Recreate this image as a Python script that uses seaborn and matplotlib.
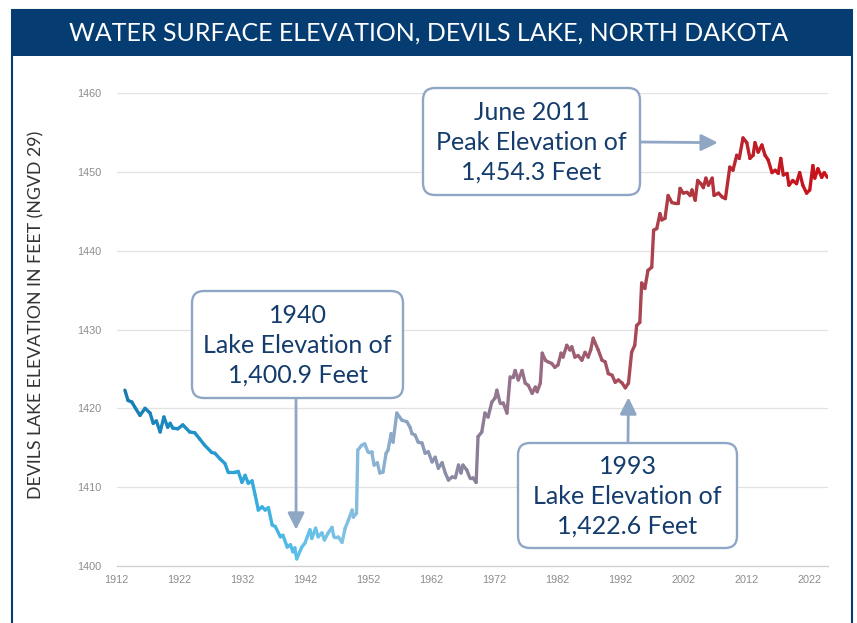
import matplotlib
matplotlib.use("Agg")
import numpy as np
import pandas as pd
import matplotlib.pyplot as plt
import seaborn as sns
from matplotlib.colors import LinearSegmentedColormap, to_hex
from matplotlib.patches import FancyBboxPatch, Rectangle
from matplotlib.transforms import IdentityTransform

# ---- data -------------------------------------------------------------
years = [
    1913.3, 1913.8, 1914.4, 1915.0, 1915.7, 1916.5, 1917.3, 1917.8, 1918.3, 1918.9,
    1919.5, 1920.1, 1920.5, 1920.9, 1921.7, 1922.5, 1923.6, 1924.4, 1925.2, 1926.0,
    1927.1, 1927.6, 1928.4, 1929.2, 1929.7, 1930.8, 1931.3, 1931.9, 1932.4, 1932.9,
    1933.5, 1934.0, 1934.5, 1935.1, 1935.6, 1936.1, 1936.7, 1937.2, 1938.0, 1938.4,
    1939.1, 1939.6, 1940.0, 1940.3, 1940.6, 1941.4, 1941.9, 1942.7, 1943.0, 1943.6,
    1944.0, 1944.6, 1945.0, 1945.6, 1946.2, 1946.5, 1947.2, 1947.8, 1948.3, 1948.8,
    1949.4, 1949.6, 1950.1, 1950.3, 1950.9, 1951.4, 1951.9, 1952.5, 1952.9, 1953.4,
    1953.8, 1954.3, 1954.8, 1955.1, 1955.6, 1955.9, 1956.5, 1957.3, 1958.1, 1958.6,
    1958.9, 1959.4, 1959.9, 1960.5, 1961.0, 1961.5, 1962.1, 1962.6, 1963.1, 1963.7,
    1964.2, 1964.7, 1965.3, 1965.8, 1966.3, 1966.7, 1967.0, 1967.6, 1968.1, 1968.6,
    1969.1, 1969.4, 1970.0, 1970.5, 1971.0, 1971.6, 1972.1, 1972.4, 1972.9, 1973.4,
    1974.0, 1974.5, 1975.0, 1975.3, 1975.8, 1976.4, 1976.9, 1977.4, 1978.0, 1978.5,
    1978.8, 1979.3, 1979.6, 1980.1, 1980.5, 1981.1, 1981.6, 1982.1, 1982.6, 1982.9,
    1983.5, 1984.0, 1984.3, 1984.8, 1985.3, 1985.9, 1986.4, 1986.9, 1987.3, 1987.7,
    1988.0, 1988.5, 1989.1, 1989.6, 1990.1, 1990.7, 1991.2, 1991.7, 1992.3, 1992.8,
    1993.3, 1993.8, 1994.3, 1994.6, 1995.1, 1995.4, 1995.9, 1996.4, 1997.0, 1997.3,
    1997.8, 1998.3, 1998.6, 1999.1, 1999.6, 2000.2, 2000.7, 2001.2, 2001.5, 2002.0,
    2002.6, 2003.1, 2003.4, 2003.9, 2004.3, 2004.8, 2005.2, 2005.6, 2006.0, 2006.6,
    2006.9, 2007.6, 2008.2, 2008.7, 2009.4, 2009.9, 2010.5, 2010.9, 2011.5, 2012.1,
    2012.6, 2013.1, 2013.4, 2013.9, 2014.5, 2015.0, 2015.5, 2016.1, 2016.6, 2017.1,
    2017.5, 2017.9, 2018.5, 2018.8, 2019.4, 2020.0, 2020.5, 2021.0, 2021.6, 2022.1,
    2022.6, 2022.9, 2023.4, 2024.0, 2024.4, 2024.9,
]
elevation_ft = [
    1422.3, 1421.0, 1420.8, 1420.0, 1419.1, 1420.0, 1419.4, 1418.1, 1418.4, 1417.0,
    1418.9, 1417.6, 1418.1, 1417.5, 1417.4, 1417.9, 1417.0, 1416.9, 1416.1, 1415.3,
    1414.4, 1414.3, 1413.6, 1413.0, 1411.9, 1411.9, 1412.0, 1410.6, 1411.5, 1410.5,
    1410.8, 1409.0, 1407.1, 1407.5, 1407.1, 1407.4, 1405.2, 1405.0, 1403.7, 1403.9,
    1402.4, 1402.7, 1401.8, 1402.3, 1400.9, 1402.4, 1402.9, 1404.6, 1403.5, 1404.8,
    1403.7, 1404.2, 1403.3, 1404.2, 1404.9, 1403.7, 1403.7, 1403.0, 1404.8, 1405.8,
    1407.1, 1406.2, 1406.7, 1414.7, 1415.3, 1415.5, 1414.5, 1414.5, 1412.8, 1413.1,
    1411.8, 1411.9, 1414.3, 1414.7, 1416.8, 1415.7, 1419.4, 1418.5, 1418.3, 1417.6,
    1416.8, 1416.6, 1415.7, 1415.6, 1414.3, 1414.5, 1413.2, 1413.8, 1412.4, 1413.1,
    1411.8, 1410.9, 1411.3, 1411.2, 1412.8, 1411.8, 1412.8, 1412.2, 1411.2, 1411.2,
    1410.6, 1416.4, 1417.0, 1419.4, 1418.9, 1420.8, 1421.3, 1422.3, 1420.7, 1420.7,
    1419.4, 1424.0, 1424.0, 1424.8, 1423.6, 1424.8, 1423.2, 1422.9, 1421.9, 1422.7,
    1422.1, 1423.2, 1427.0, 1426.1, 1425.9, 1425.7, 1425.2, 1425.5, 1427.0, 1426.5,
    1428.0, 1427.4, 1427.8, 1426.5, 1426.7, 1426.1, 1427.1, 1426.5, 1427.4, 1428.9,
    1428.3, 1427.4, 1426.1, 1425.9, 1424.4, 1424.2, 1423.3, 1423.6, 1423.2, 1422.6,
    1423.2, 1427.1, 1428.0, 1430.5, 1430.9, 1435.9, 1435.2, 1437.5, 1437.9, 1442.6,
    1442.8, 1444.7, 1443.9, 1444.1, 1447.0, 1446.1, 1446.0, 1446.0, 1447.9, 1447.3,
    1447.4, 1447.0, 1447.7, 1446.4, 1448.9, 1448.5, 1448.0, 1449.2, 1448.3, 1449.2,
    1447.0, 1447.3, 1446.8, 1446.6, 1450.6, 1450.2, 1452.1, 1451.7, 1454.3, 1453.7,
    1451.7, 1452.1, 1453.7, 1452.5, 1453.4, 1452.1, 1451.5, 1449.9, 1450.2, 1449.8,
    1451.7, 1449.6, 1449.8, 1448.3, 1448.9, 1448.5, 1449.9, 1448.3, 1447.3, 1447.7,
    1450.8, 1449.2, 1450.4, 1449.3, 1449.9, 1449.3,
]

x_ticks = list(range(1912, 2023, 10))
y_ticks = [1400, 1410, 1420, 1430, 1440, 1450, 1460]

title = "WATER SURFACE ELEVATION, DEVILS LAKE, NORTH DAKOTA"
y_label = "DEVILS LAKE ELEVATION IN FEET (NGVD 29)"

# callouts: text, arrow tip (year, elevation)
callout_text = [
    "1940\nLake Elevation of\n1,400.9 Feet",
    "June 2011\nPeak Elevation of\n1,454.3 Feet",
    "1993\nLake Elevation of\n1,422.6 Feet",
]
callout_tip_year = [1940.5, 2007.5, 1993.3]
callout_tip_elev = [1404.6, 1453.7, 1421.4]

# ---- styling ---------------------------------------------------------
NAVY = "#053d73"
TEXT_NAVY = "#143c6c"
BOX_EDGE = "#8fa7c4"
GRID = "#e2e2e2"
TICK_GREY = "#8c8c8c"

color_stops = [
    (1912, "#147ab2"), (1925, "#1f93c8"), (1935, "#3aaee0"), (1941, "#5cc0ea"),
    (1948, "#80c2e4"), (1952, "#8ab7d8"), (1958, "#8ea4c2"), (1964, "#8a8ea9"),
    (1969, "#8b7f98"), (1976, "#96718a"), (1985, "#9e5f74"), (1993, "#a74a58"),
    (2000, "#ae3d47"), (2008, "#b52e38"), (2015, "#c11a23"), (2025, "#c8131a"),
]

W, H = 857, 623
sns.set_style("white")
plt.rcParams["font.family"] = ["Lato", "DejaVu Sans"]

fig = plt.figure(figsize=(W / 100, H / 100), dpi=100)
fig.patch.set_facecolor("white")

x0_px, x1_px, top_px, bot_px = 116.7, 828.0, 93.0, 566.0
ax = fig.add_axes([x0_px / W, (H - bot_px) / H, (x1_px - x0_px) / W, (bot_px - top_px) / H])

# gradient-coloured line: one short seaborn line per consecutive pair of points
lo, hi = color_stops[0][0], color_stops[-1][0]
cmap = LinearSegmentedColormap.from_list(
    "lake", [((y - lo) / (hi - lo), c) for y, c in color_stops]
)
rows = []
palette = {}
for i in range(len(years) - 1):
    rows.append((years[i], elevation_ft[i], i))
    rows.append((years[i + 1], elevation_ft[i + 1], i))
    mid = 0.5 * (years[i] + years[i + 1])
    palette[i] = to_hex(cmap((mid - lo) / (hi - lo)))
segs = pd.DataFrame(rows, columns=["year", "elevation", "seg"])
sns.lineplot(
    data=segs, x="year", y="elevation", hue="seg", palette=palette,
    estimator=None, sort=False, legend=False, ax=ax, linewidth=2.4,
    solid_capstyle="round", solid_joinstyle="round",
)

ax.set_xlim(1912, 2025)
ax.set_ylim(1400, 1460)
ax.set_xticks(x_ticks)
ax.set_yticks(y_ticks)
ax.set_xlabel("")
ax.set_ylabel("")
ax.grid(axis="y", color=GRID, linewidth=0.9)
ax.grid(axis="x", visible=False)
ax.set_axisbelow(True)
for side in ("left", "top", "right"):
    ax.spines[side].set_visible(False)
ax.spines["bottom"].set_color("#cfcfcf")
ax.spines["bottom"].set_linewidth(0.9)

tick_font = ["Liberation Sans", "DejaVu Sans"]
ax.tick_params(axis="x", length=3.5, width=0.8, color="#cfcfcf", pad=3,
               labelsize=7.8, labelcolor=TICK_GREY)
ax.tick_params(axis="y", length=0, pad=11, labelsize=7.8, labelcolor=TICK_GREY)
for lab in ax.get_xticklabels() + ax.get_yticklabels():
    lab.set_family(tick_font)

# ---- frame and title bar ---------------------------------------------
ident = IdentityTransform()
fig.add_artist(Rectangle((12, -10), 839.5, H, transform=ident,
                         fill=False, edgecolor=NAVY, linewidth=1.5, zorder=5))
fig.add_artist(Rectangle((11, H - 56), 842, 46, transform=ident,
                         facecolor=NAVY, edgecolor=NAVY, linewidth=0, zorder=6))
fig.text(429, H - 33, title, transform=ident, color="white", fontsize=18,
         ha="center", va="center", zorder=7)

fig.text(36, H - 315, y_label, transform=ident, rotation=90, color="#333333",
         fontsize=12.8, ha="center", va="center")

# ---- callout boxes and arrows ----------------------------------------
# box geometry in pixels (left, top, right, bottom) measured from the top-left
boxes = [(192, 291, 403, 398), (423, 88, 640, 195), (518, 443, 737, 548)]
arrow_starts = [(296, 398), (640, 142), (628, 443)]

for txt, (l, t, r, b), (sx, sy), ty, te in zip(
        callout_text, boxes, arrow_starts, callout_tip_year, callout_tip_elev):
    ax.annotate(
        "", xy=(ty, te), xycoords="data",
        xytext=(sx, H - sy), textcoords="figure pixels",
        arrowprops=dict(arrowstyle="-|>,head_length=1.0,head_width=0.5",
                        mutation_scale=10, color=BOX_EDGE, lw=2.0,
                        shrinkA=0, shrinkB=0),
    )
    fig.add_artist(FancyBboxPatch(
        (l, H - b), r - l, b - t, boxstyle="round,pad=0,rounding_size=12",
        transform=ident, facecolor="white", edgecolor=BOX_EDGE, linewidth=1.7,
        zorder=8))
    fig.text((l + r) / 2, H - (t + b) / 2 - 1, txt, transform=ident, color=TEXT_NAVY,
             fontsize=18, ha="center", va="center", linespacing=1.36, zorder=9)

fig.savefig("out.png", dpi=100, facecolor="white")
